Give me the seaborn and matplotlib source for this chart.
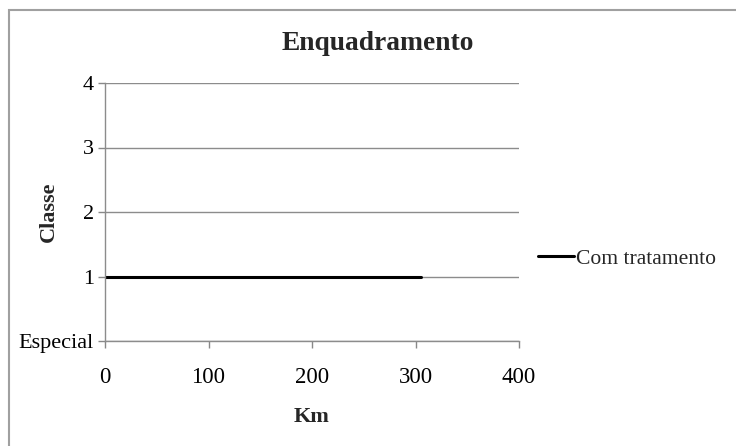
import matplotlib
matplotlib.use("Agg")
import matplotlib.pyplot as plt
import seaborn as sns
import pandas as pd
from matplotlib.patches import Rectangle

# Water-quality class along the river (km)
km = [0, 305]
classe = [1, 1]
series_name = "Com tratamento"
y_ticks = [0, 1, 2, 3, 4]
y_labels = ["Especial", "1", "2", "3", "4"]
x_ticks = [0, 100, 200, 300, 400]

df = pd.DataFrame({"Km": km, "Classe": classe, "Serie": [series_name] * len(km)})

sns.set_theme(style="white")
plt.rcParams["font.family"] = ["Liberation Serif", "DejaVu Serif"]

fig = plt.figure(figsize=(7.36, 4.46), dpi=100)
ax = fig.add_axes([105 / 736, 105 / 446, 414 / 736, 258 / 446])

sns.lineplot(data=df, x="Km", y="Classe", hue="Serie", palette=["black"],
             linewidth=2.2, ax=ax)

ax.set_xlim(0, 400)
ax.set_ylim(0, 4)
ax.set_xticks(x_ticks)
ax.set_yticks(y_ticks)
ax.set_yticklabels(y_labels)
ax.tick_params(axis="both", labelsize=16, colors="#888888", labelcolor="black",
               direction="out", length=5, width=1, pad=3, left=True, bottom=True)
ax.tick_params(axis="x", labelsize=16.5, pad=14)

ax.grid(axis="y", color="#8c8c8c", linewidth=1)
ax.set_axisbelow(True)
for side in ["top", "right"]:
    ax.spines[side].set_visible(False)
for side in ["left", "bottom"]:
    ax.spines[side].set_color("#8c8c8c")
    ax.spines[side].set_linewidth(1)

# title is centred on the whole chart area
fig.text(378 / 736, 1 - 43 / 446, "Enquadramento", fontsize=19.8,
         fontweight="bold", ha="center", va="center")
ax.set_xlabel("Km", fontsize=16, fontweight="bold")
ax.xaxis.set_label_coords(0.5, -66 / 258)
ax.set_ylabel("Classe", fontsize=16, fontweight="bold")
ax.yaxis.set_label_coords(-46 / 414, 0.5)

ax.legend(loc="center left", bbox_to_anchor=(1.024, 0.32), frameon=False,
          fontsize=15.6, handlelength=1.7, handletextpad=0.05, borderaxespad=0,
          bbox_transform=ax.transAxes)

# chart frame
fig.patches.append(Rectangle((8.5 / 736, -0.05), 1.2, 1 - 9.5 / 446 + 0.05,
                             transform=fig.transFigure, fill=False,
                             edgecolor="#a0a0a0", linewidth=1.5))

fig.savefig("out.png", dpi=100)
